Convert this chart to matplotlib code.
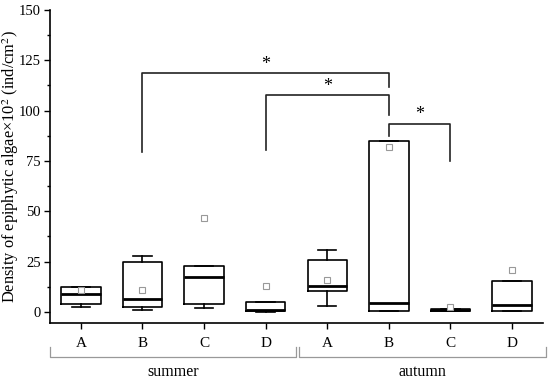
import matplotlib.pyplot as plt
import matplotlib.transforms as mtransforms

plt.rcParams["font.family"] = ["Liberation Serif", "DejaVu Serif"]
plt.rcParams["mathtext.fontset"] = "stix"

# box statistics (summer A-D, autumn A-D)
labels = ["A", "B", "C", "D", "A", "B", "C", "D"]
whislo = [2.5, 1.0, 2.0, 0.0, 3.0, 0.5, 0.3, 0.3]
q1 = [4.0, 2.5, 4.0, 0.5, 10.5, 0.5, 0.3, 0.5]
med = [9.0, 6.5, 17.5, 1.0, 13.0, 4.5, 0.8, 3.5]
q3 = [12.5, 25.0, 23.0, 5.0, 25.7, 85.0, 1.5, 15.5]
whishi = [12.5, 28.0, 23.0, 5.0, 31.0, 85.0, 1.5, 15.5]
means = [11.0, 11.0, 46.5, 13.0, 16.0, 82.0, 2.5, 21.0]

seasons = ["summer", "autumn"]

# significance brackets: (left pos, right pos, left foot, right foot, top)
brackets = [
    (2, 6, 79.5, 111.5, 118.5),
    (4, 6, 80.5, 98.0, 107.5),
    (6, 7, 87.5, 75.0, 93.5),
]

stats = []
for i in range(len(labels)):
    stats.append({
        "whislo": whislo[i], "q1": q1[i], "med": med[i], "q3": q3[i],
        "whishi": whishi[i], "mean": means[i], "fliers": [],
    })

fig = plt.figure(figsize=(5.5, 3.8), dpi=100)
ax = fig.add_axes([0.091, 0.15, 0.896, 0.824])

positions = list(range(1, len(labels) + 1))
ax.bxp(stats, positions=positions, widths=0.64, showmeans=True,
       showfliers=False, capwidths=0.3,
       boxprops=dict(color="black", linewidth=1.2),
       whiskerprops=dict(color="black", linewidth=1.2),
       capprops=dict(color="black", linewidth=1.2),
       medianprops=dict(color="black", linewidth=2.0),
       meanprops=dict(marker="s", markersize=4, markerfacecolor="white",
                      markeredgecolor="#999999", markeredgewidth=0.8))

for x1, x2, y1, y2, top in brackets:
    ax.plot([x1, x1, x2, x2], [y1, top, top, y2], color="#222222", lw=1.2)
    ax.text((x1 + x2) / 2, top + 4.5, "*", ha="center", va="center", fontsize=13)

ax.set_xlim(0.5, 8.5)
ax.set_ylim(-5.5, 150)
ax.set_xticks(positions)
ax.set_xticklabels(labels, fontsize=11)
ax.set_yticks([0, 25, 50, 75, 100, 125, 150])
ax.set_yticks([12.5, 37.5, 62.5, 87.5, 112.5, 137.5], minor=True)
ax.tick_params(axis="y", labelsize=10.5, length=4, width=1, pad=2.5)
ax.tick_params(axis="y", which="minor", length=2.5, width=1)
ax.tick_params(axis="x", length=4, width=1, pad=6)
ax.spines["top"].set_visible(False)
ax.spines["right"].set_visible(False)
ax.spines["left"].set_linewidth(1.2)
ax.spines["bottom"].set_linewidth(1.2)
ax.set_ylabel("Density of epiphytic algae\u00d710$^2$ (ind/cm$^2$)", fontsize=11.8,
              va="center")
ax.yaxis.set_label_coords(-0.08, 0.5)

# season group brackets under the axis
trans = mtransforms.blended_transform_factory(ax.transData, ax.transAxes)
spans = [(0.5, 4.49), (4.54, 8.55)]
for (xa, xb), name in zip(spans, seasons):
    ax.plot([xa, xa, xb, xb], [-0.077, -0.109, -0.109, -0.077], color="#999999",
            lw=0.9, transform=trans, clip_on=False)
    ax.text((xa + xb) / 2, -0.13, name, ha="center", va="top", fontsize=11.5,
            transform=trans)

fig.savefig("out.png", dpi=100)
